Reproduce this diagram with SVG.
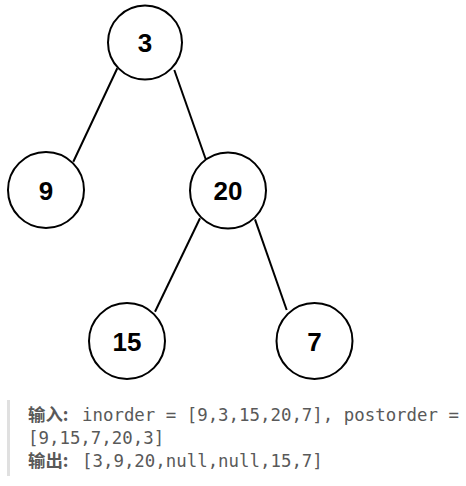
<svg xmlns="http://www.w3.org/2000/svg" width="466" height="486" viewBox="0 0 466 486">
<style>
.n circle{fill:#fff;stroke:#000;stroke-width:2}
.n text{font-family:"Liberation Sans",Arial,sans-serif;font-weight:bold;font-size:26px;text-anchor:middle;fill:#000}
.e line{stroke:#000;stroke-width:2}
.t{font-family:"DejaVu Sans Mono","Noto Sans CJK SC",monospace;font-size:17.4px;fill:#595959}
.b{font-family:"Noto Sans CJK SC",sans-serif;font-weight:bold}
</style>
<rect width="466" height="486" fill="#fff"/>
<g id="connectors" class="e">
<line x1="117.3" y1="68.3" x2="73.3" y2="161.7"/>
<line x1="174.3" y1="70" x2="206" y2="160"/>
<line x1="200" y1="218.3" x2="155" y2="311.7"/>
<line x1="255" y1="219.3" x2="286.7" y2="310"/>
</g>
<g id="node-3" class="n"><circle cx="145" cy="42.5" r="37"/><text x="145" y="52">3</text></g>
<g id="node-9" class="n"><circle cx="46" cy="190" r="38"/><text x="46" y="199.5">9</text></g>
<g id="node-20" class="n"><circle cx="228" cy="190.5" r="38"/><text x="228" y="200">20</text></g>
<g id="node-15" class="n"><circle cx="127" cy="341" r="38"/><text x="127" y="350.5">15</text></g>
<g id="node-7" class="n"><circle cx="314.5" cy="341" r="38"/><text x="314.5" y="350.5">7</text></g>
<g id="example">
<rect x="7" y="400" width="3" height="76" fill="#e0e0e0"/>
<text class="t" x="28" y="421"><tspan class="b">输入:</tspan><tspan x="82">inorder = [9,3,15,20,7], postorder =</tspan></text>
<text class="t" x="28" y="444">[9,15,7,20,3]</text>
<text class="t" x="28" y="467"><tspan class="b">输出:</tspan><tspan x="82">[3,9,20,null,null,15,7]</tspan></text>
</g>
</svg>
